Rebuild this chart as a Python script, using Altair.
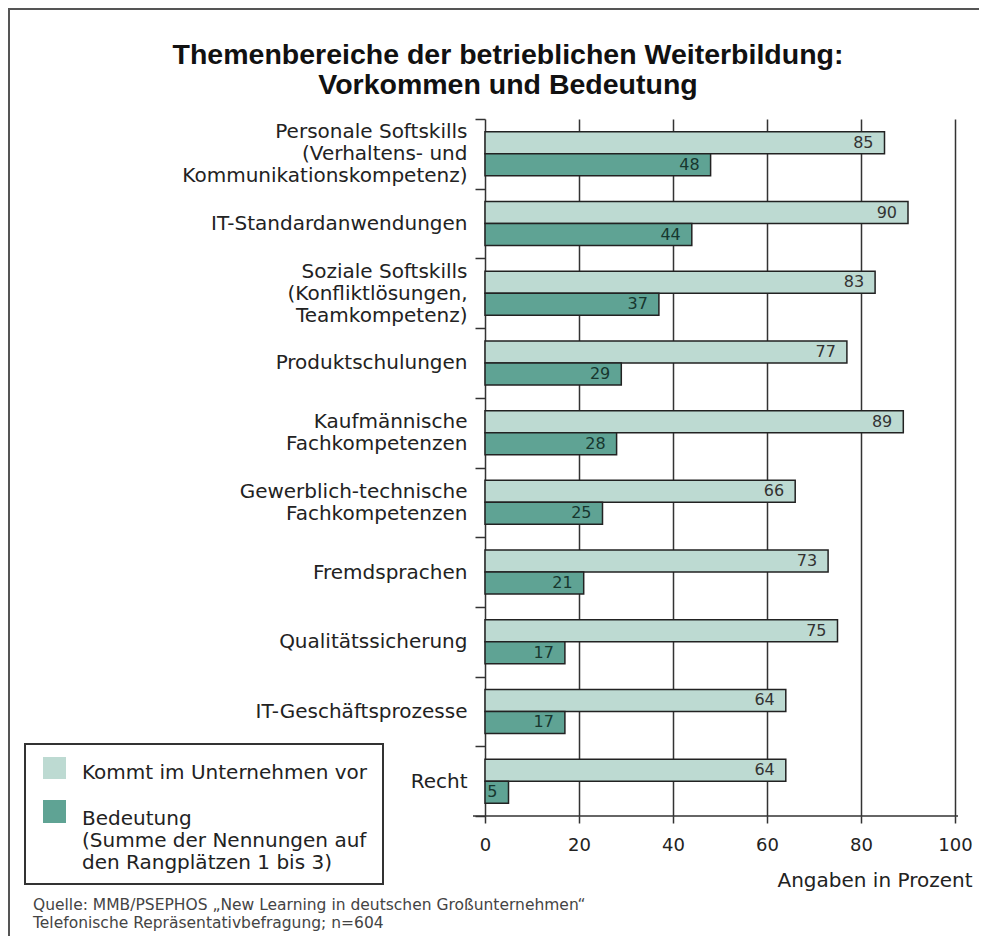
import altair as alt
import pandas as pd

# ---------------- data ----------------
categories = [
    "Personale Softskills|(Verhaltens- und|Kommunikationskompetenz)",
    "IT-Standardanwendungen",
    "Soziale Softskills|(Konfliktlösungen,|Teamkompetenz)",
    "Produktschulungen",
    "Kaufmännische|Fachkompetenzen",
    "Gewerblich-technische|Fachkompetenzen",
    "Fremdsprachen",
    "Qualitätssicherung",
    "IT-Geschäftsprozesse",
    "Recht",
]
vorkommen = [85, 90, 83, 77, 89, 66, 73, 75, 64, 64]
bedeutung = [48, 44, 37, 29, 28, 25, 21, 17, 17, 5]
series_names = ["Kommt im Unternehmen vor", "Bedeutung"]
series_colors = ["#bddad2", "#5fa394"]
label_colors = ["#333333", "#17372f"]
x_ticks = [0, 20, 40, 60, 80, 100]
x_title = "Angaben in Prozent"
title_lines = ["Themenbereiche der betrieblichen Weiterbildung:", "Vorkommen und Bedeutung"]
legend_lines = [
    ["Kommt im Unternehmen vor"],
    ["Bedeutung", "(Summe der Nennungen auf", "den Rangplätzen 1 bis 3)"],
]
source_lines = [
    "Quelle: MMB/PSEPHOS „New Learning in deutschen Großunternehmen“",
    "Telefonische Repräsentativbefragung; n=604",
]

rows = []
for c, v, b in zip(categories, vorkommen, bedeutung):
    rows.append({"cat": c, "series": series_names[0], "value": v})
    rows.append({"cat": c, "series": series_names[1], "value": b})
df = pd.DataFrame(rows)
ann = pd.DataFrame({"k": [0]})

W, H = 470, 697
BODY = "DejaVu Sans"
LH = 22

x_enc = alt.X(
    "value:Q",
    scale=alt.Scale(domain=[0, 100], nice=False),
    axis=alt.Axis(
        values=x_ticks, title=x_title, grid=True, gridColor="#333", gridWidth=1.5,
        gridOpacity=1, domain=False, tickSize=7, tickColor="#333", tickWidth=1.5,
        labelFont=BODY, labelFontSize=18, labelColor="#222", labelPadding=13,
        labelFlush=False, titleX=W + 17, titleY=70, titleAlign="right",
        titleBaseline="alphabetic", titleFont=BODY, titleFontSize=20,
        titleFontWeight="normal", titleColor="#222",
    ),
)
y_enc = alt.Y(
    "cat:N", sort=categories,
    scale=alt.Scale(paddingInner=0, paddingOuter=0),
    axis=alt.Axis(
        title=None, labelExpr="split(datum.label, '|')", labelFont=BODY,
        labelFontSize=20, labelColor="#222", labelLineHeight=LH, labelPadding=8,
        labelOffset={
            "condition": [
                {"test": "length(split(datum.value, '|')) == 3", "value": -LH},
                {"test": "length(split(datum.value, '|')) == 2", "value": -LH / 2},
            ],
            "value": 0,
        },
        tickBand="extent", tickSize=10, tickColor="#333", tickWidth=1.5,
        domain=False, grid=False, labelLimit=0,
    ),
)
yoff = alt.YOffset("series:N", sort=series_names,
                   scale=alt.Scale(paddingInner=0, paddingOuter=0.584))

base = alt.Chart(df)
bars = base.mark_bar(stroke="#222", strokeWidth=1.5).encode(
    x=x_enc, y=y_enc, yOffset=yoff,
    color=alt.Color("series:N", scale=alt.Scale(domain=series_names, range=series_colors), legend=None),
)
labels = base.mark_text(align="right", baseline="middle", dx=-11, font=BODY, fontSize=16).encode(
    x=x_enc, y=y_enc, yOffset=yoff, text="value:Q",
    color=alt.condition(alt.datum.series == series_names[1], alt.value(label_colors[1]), alt.value(label_colors[0])),
)

a = alt.Chart(ann)
axis_line = a.mark_rule(color="#333", strokeWidth=1.5).encode(
    x=alt.value(-12), x2=alt.value(W + 3), y=alt.value(H))
frame_top = a.mark_rule(color="#555", strokeWidth=2).encode(
    x=alt.value(-477), x2=alt.value(W + 40), y=alt.value(-110))
frame_left = a.mark_rule(color="#555", strokeWidth=2).encode(
    x=alt.value(-476), y=alt.value(-111), y2=alt.value(H + 140))

title = a.mark_text(text=title_lines, font="Liberation Sans", fontWeight="bold", fontSize=28.5,
                    align="center", baseline="top", lineHeight=30, color="#111").encode(
    x=alt.value(23), y=alt.value(-78))

legend_box = a.mark_rect(fill="white", stroke="#333", strokeWidth=2).encode(
    x=alt.value(-460), x2=alt.value(-102), y=alt.value(625), y2=alt.value(765))
sw1 = a.mark_rect(color=series_colors[0]).encode(
    x=alt.value(-442), x2=alt.value(-419), y=alt.value(638), y2=alt.value(660))
sw2 = a.mark_rect(color=series_colors[1]).encode(
    x=alt.value(-442), x2=alt.value(-419), y=alt.value(681), y2=alt.value(704))
lt1 = a.mark_text(text=legend_lines[0], font=BODY, fontSize=20, align="left", baseline="top",
                  color="#222").encode(x=alt.value(-403), y=alt.value(644))
lt2 = a.mark_text(text=legend_lines[1], font=BODY, fontSize=20, align="left", baseline="top",
                  lineHeight=22, color="#222").encode(x=alt.value(-403), y=alt.value(690))

source = a.mark_text(text=source_lines, font=BODY, fontSize=15.5, align="left", baseline="top",
                     lineHeight=18, color="#444").encode(x=alt.value(-452), y=alt.value(779))

chart = alt.layer(
    frame_top, frame_left, bars, labels, axis_line, title,
    legend_box, sw1, sw2, lt1, lt2, source,
).properties(
    width=W, height=H,
    padding={"left": 477, "top": 111, "right": 24, "bottom": 120},
    autosize=alt.AutoSizeParams(type="none"),
    background="white",
).configure_view(stroke=None)

chart.save("out.html", embed_options={"renderer": "svg", "actions": False})
